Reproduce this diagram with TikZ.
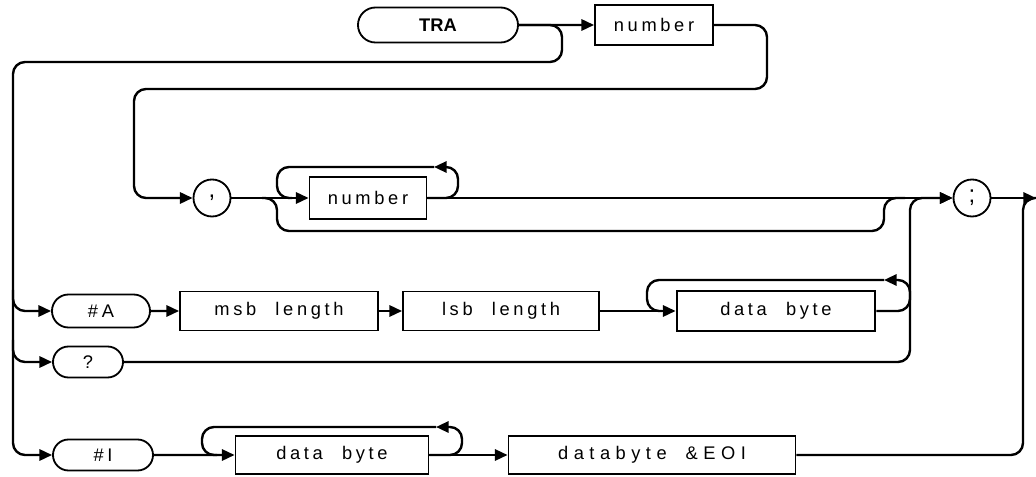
\documentclass[tikz,border=0pt]{standalone}
\usepackage{fontspec}
\setmainfont{Liberation Sans}
\newfontfamily\synfont[LetterSpace=20, WordSpace=2.2]{Liberation Sans}
\newfontfamily\widefont[LetterSpace=30, WordSpace=1.8]{Liberation Sans}
\usetikzlibrary{shapes.misc, arrows.meta}
\tikzset{
    keyword/.style={rounded rectangle, draw, line width=1.3pt, inner sep=0pt, minimum height=0.775cm, font=\fontsize{13}{15}\selectfont\synfont},
    param/.style={rectangle, draw, line width=1.3pt, inner sep=0pt, minimum height=0.975cm, font=\fontsize{13}{15}\selectfont\synfont},
    sepmark/.style={circle, draw, line width=1.3pt, inner sep=0pt, minimum size=0.925cm, font=\fontsize{17}{18}\selectfont},
    wire/.style={line width=1.7pt, rounded corners=0.3cm},
    arrow/.style={wire, -{Triangle[length=9pt, width=8pt]}}
}

\begin{document}
\begin{tikzpicture}[x=0.025cm, y=-0.025cm]
    \useasboundingbox (0,0) rectangle (1036,477);

    \node (tra) [keyword, minimum width=4cm, minimum height=0.875cm, font=\fontsize{13}{15}\selectfont\bfseries] at (438,25) {TRA};
    \node (num1) [param, minimum width=2.95cm, minimum height=1cm] at (654,25) {number};
    \node (comma) [sepmark] at (212,198) {,};
    \node (num2) [param, minimum width=2.925cm, minimum height=1.05cm] at (368,198) {number};
    \node (semi) [sepmark] at (972,198) {;};
    \node (hashA) [keyword, minimum width=2.45cm, minimum height=0.825cm] at (101,311) {\#A};
    \node (msb) [param, minimum width=4.95cm] at (279,311) {msb length};
    \node (lsb) [param, minimum width=4.9cm] at (501,311) {lsb length};
    \node (dbyteA) [param, minimum width=4.95cm, minimum height=1cm, line width=2pt] at (776,311) {data byte};
    \node (query) [keyword, minimum width=1.75cm] at (88,362) {?};
    \node (hashI) [keyword, minimum width=2.5cm] at (103,455) {\#I};
    \node (dbyteI) [param, minimum width=4.825cm, minimum height=0.95cm] at (332,455) {data byte};
    \node (eoi) [param, minimum width=7.175cm, minimum height=0.95cm, font=\fontsize{13}{15}\selectfont\widefont] at (652,455) {databyte \&EOI};
    \coordinate (exit) at (1036,198);

    % TRA and the first number
    \draw [arrow] (tra) -- (num1);
    \draw [arrow] (tra.east) -- (562,25) -- (562,62) -- (13,62) -- (13,455) -- (hashI.west);
    \draw [arrow] (num1.east) -- (767,25) -- (767,89) -- (134,89) -- (134,198) -- (comma.west);

    % comma and repeated numbers
    \draw [arrow] (comma) -- (num2);
    \draw [arrow] (num2.east) -- (458,198) -- (458,167) -- (434,167);
    \draw [wire] (434,167) -- (277,167) -- (277,198) -- (292,198);
    \draw [wire] (262,198) -- (277,198) -- (277,231) -- (884,231) -- (884,198) -- (905,198);
    \draw [arrow] (num2) -- (semi);

    % #A block
    \draw [arrow] (13,290) -- (13,311) -- (hashA.west);
    \draw [arrow] (hashA) -- (msb);
    \draw [arrow] (msb) -- (lsb);
    \draw [arrow] (lsb) -- (dbyteA);
    \draw [arrow] (dbyteA.east) -- (910,311) -- (910,280) -- (884,280);
    \draw [wire] (884,280) -- (647,280) -- (647,311) -- (662,311);

    % query
    \draw [arrow] (13,340) -- (13,362) -- (query.west);
    \draw [arrow] (query.east) -- (910,362) -- (910,198) -- (semi.west);

    % #I block
    \draw [arrow] (hashI) -- (dbyteI);
    \draw [arrow] (dbyteI.east) -- (462,455) -- (462,427) -- (436,427);
    \draw [wire] (436,427) -- (202,427) -- (202,455) -- (217,455);
    \draw [arrow] (dbyteI) -- (eoi);

    % exits
    \draw [arrow] (semi) -- (exit);
    \draw [wire] (eoi.east) -- (1023,455) -- (1023,198) -- (exit);
\end{tikzpicture}
\end{document}
